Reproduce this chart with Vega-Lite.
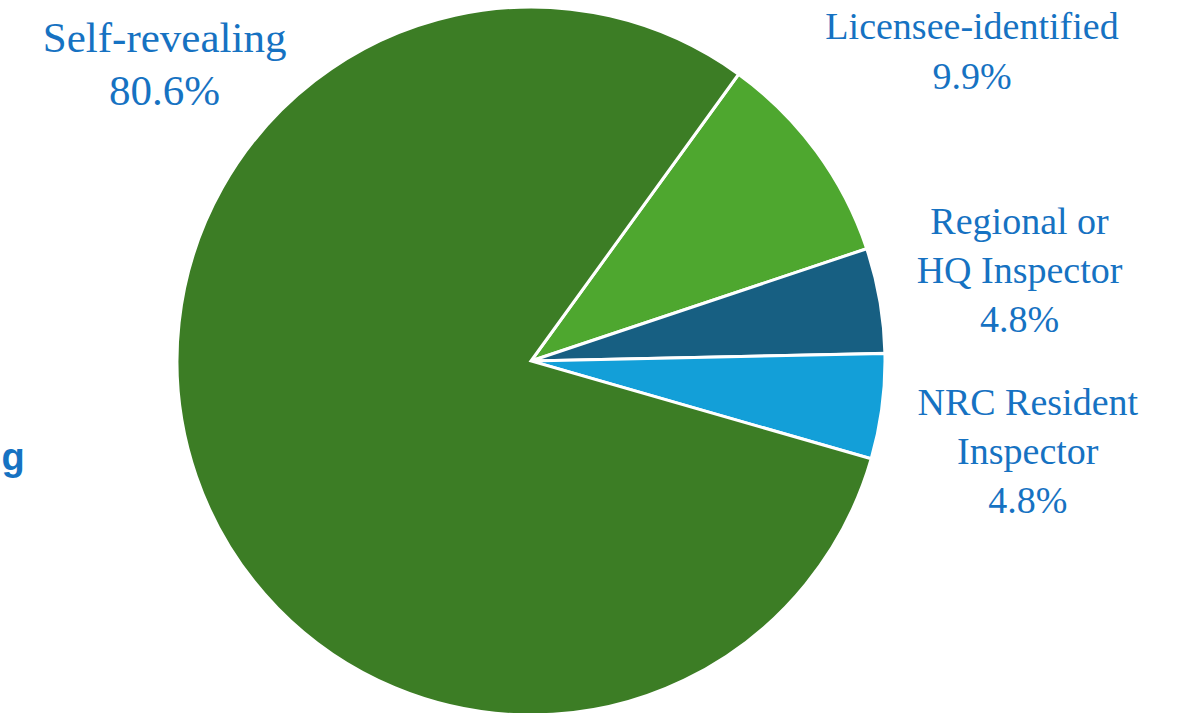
{
  "$schema": "https://vega.github.io/schema/vega-lite/v6.json",
  "width": 1062,
  "height": 722,
  "padding": 0,
  "autosize": {"type": "pad"},
  "background": "#ffffff",
  "config": {"view": {"stroke": null}},
  "layer": [
    {
      "data": {
        "values": [
          {"category": "Licensee-identified", "label": "Licensee-identified\n9.9%", "value": 9.9, "order": 1},
          {"category": "Regional or HQ Inspector", "label": "Regional or\nHQ Inspector\n4.8%", "value": 4.8, "order": 2},
          {"category": "NRC Resident Inspector", "label": "NRC Resident\nInspector\n4.8%", "value": 4.8, "order": 3},
          {"category": "Self-revealing", "label": "Self-revealing\n80.6%", "value": 80.6, "order": 4}
        ]
      },
      "transform": [
        {"window": [{"op": "sum", "field": "value", "as": "cum"}], "sort": [{"field": "order"}], "frame": [null, 0]},
        {"calculate": "datum.cum - datum.value / 2", "as": "mid"}
      ],
      "encoding": {
        "theta": {"field": "value", "type": "quantitative", "stack": true, "scale": {"range": [0.6266, 6.9098]}},
        "order": {"field": "order", "type": "quantitative"}
      },
      "layer": [
        {
          "mark": {"type": "arc", "outerRadius": 354, "stroke": "#ffffff", "strokeWidth": 3},
          "encoding": {
            "color": {
              "field": "category",
              "type": "nominal",
              "legend": null,
              "scale": {
                "domain": ["Licensee-identified", "Regional or HQ Inspector", "NRC Resident Inspector", "Self-revealing"],
                "range": ["#4ea72f", "#175f82", "#139fd8", "#3c7d25"]
              }
            }
          }
        },
        {
          "transform": [{"filter": "datum.order === 1"}],
          "mark": {"type": "text", "font": "Liberation Serif", "fontSize": 38, "lineHeight": 50, "lineBreak": "\n", "color": "#1672c2", "align": "center", "baseline": "middle", "radius": 505, "dx": 34, "dy": -34},
          "encoding": {
            "text": {"field": "label"},
            "theta": {"field": "mid", "type": "quantitative", "stack": null}
          }
        },
        {
          "transform": [{"filter": "datum.order === 2"}],
          "mark": {"type": "text", "font": "Liberation Serif", "fontSize": 38, "lineHeight": 49, "lineBreak": "\n", "color": "#1672c2", "align": "center", "baseline": "middle", "radius": 505, "dx": -9, "dy": -52},
          "encoding": {
            "text": {"field": "label"},
            "theta": {"field": "mid", "type": "quantitative", "stack": null}
          }
        },
        {
          "transform": [{"filter": "datum.order === 3"}],
          "mark": {"type": "text", "font": "Liberation Serif", "fontSize": 38, "lineHeight": 49, "lineBreak": "\n", "color": "#1672c2", "align": "center", "baseline": "middle", "radius": 505, "dx": -4, "dy": -22},
          "encoding": {
            "text": {"field": "label"},
            "theta": {"field": "mid", "type": "quantitative", "stack": null}
          }
        },
        {
          "transform": [{"filter": "datum.order === 4"}],
          "mark": {"type": "text", "font": "Liberation Serif", "fontSize": 43, "lineHeight": 53, "lineBreak": "\n", "color": "#1672c2", "align": "center", "baseline": "middle", "radius": 505, "dx": 111, "dy": -487},
          "encoding": {
            "text": {"field": "label"},
            "theta": {"field": "mid", "type": "quantitative", "stack": null}
          }
        }
      ]
    },
    {
      "data": {"values": [{"t": "g"}]},
      "mark": {"type": "text", "font": "Liberation Sans", "fontWeight": "bold", "fontSize": 38, "color": "#1672c2", "align": "right", "baseline": "alphabetic"},
      "encoding": {
        "text": {"field": "t"},
        "theta": {"value": 4.4995},
        "radius": {"value": 518}
      }
    }
  ]
}
